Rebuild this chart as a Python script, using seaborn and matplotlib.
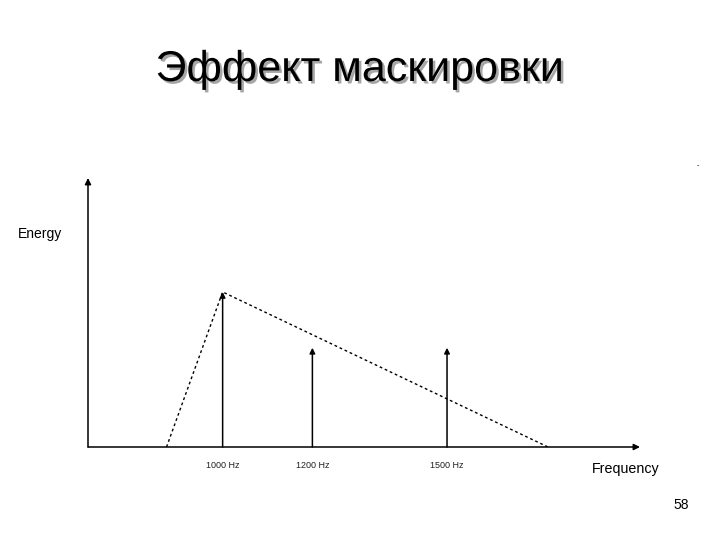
import matplotlib
matplotlib.use("Agg")
import matplotlib.pyplot as plt
import matplotlib.patheffects as pe
import seaborn as sns
import pandas as pd

# datos (frecuencia en Hz, energia relativa)
curva_freq = [875, 1000, 1725]
curva_energia = [0.0, 1.0, 0.0]
tonos_freq = [1000, 1200, 1500]
tonos_energia = [1.0, 0.64, 0.64]
tonos_etiquetas = ["1000 Hz", "1200 Hz", "1500 Hz"]
eje_x = [700, 1930]
eje_y = [0.0, 1.735]

sns.set_theme(style="white")
plt.rcParams["font.family"] = ["Liberation Sans", "DejaVu Sans"]
plt.rcParams["text.color"] = "black"

fig = plt.figure(figsize=(7.2, 5.4), dpi=100)
ax = fig.add_axes([88 / 720, 93 / 540, 552 / 720, 269 / 540])

df_curva = pd.DataFrame({"Frecuencia": curva_freq, "Energia": curva_energia})
sns.lineplot(data=df_curva, x="Frecuencia", y="Energia", ax=ax, color="black",
             linestyle=(0, (2, 2)), linewidth=1.0)

# flechas de los tonos
for f, e in zip(tonos_freq, tonos_energia):
    ax.annotate("", xy=(f, e), xytext=(f, 0),
                arrowprops=dict(arrowstyle="-|>", color="black", lw=1.1,
                                mutation_scale=8, shrinkA=0, shrinkB=0))

# ejes con flecha
ax.annotate("", xy=(eje_x[1], 0), xytext=(eje_x[0], 0),
            arrowprops=dict(arrowstyle="-|>", color="black", lw=1.1,
                            mutation_scale=9, shrinkA=0, shrinkB=0))
ax.annotate("", xy=(eje_x[0], eje_y[1]), xytext=(eje_x[0], 0),
            arrowprops=dict(arrowstyle="-|>", color="black", lw=1.1,
                            mutation_scale=9, shrinkA=0, shrinkB=0))

ax.set_xlim(eje_x)
ax.set_ylim(eje_y)
for s in ax.spines.values():
    s.set_visible(False)
ax.set_xticks(tonos_freq)
ax.set_xticklabels(tonos_etiquetas, fontsize=6.5, color="#222222")
ax.tick_params(axis="x", length=0, pad=10)
ax.set_yticks([])
ax.set_xlabel("")
ax.set_ylabel("")

fig.text(18 / 720, 1 - 234 / 540, "Energy", fontsize=10, ha="left", va="center")
fig.text(592 / 720, 1 - 469 / 540, "Frequency", fontsize=10.3, ha="left", va="center")
fig.text(681 / 720, 1 - 505 / 540, "58", fontsize=10, ha="center", va="center")
fig.text(698 / 720, 1 - 166 / 540, "-", fontsize=5, ha="center", va="center")

titulo = fig.text(0.5 * (152 + 567) / 720, 1 - 70 / 540, "Эффект маскировки",
                  fontsize=31, ha="center", va="center", color="black")
titulo.set_path_effects([pe.SimplePatchShadow(offset=(1.8, -1.8), shadow_rgbFace="gray", alpha=0.7),
                         pe.Normal()])

fig.savefig("out.png", dpi=100)
